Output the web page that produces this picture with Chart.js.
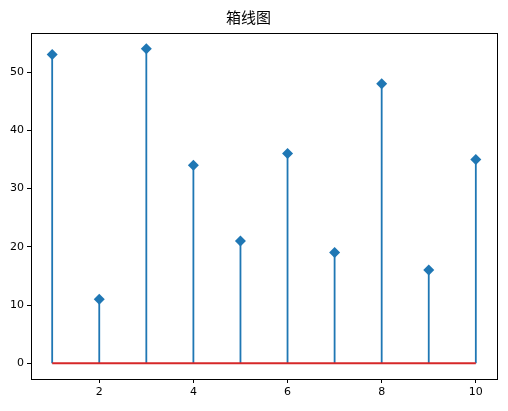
<!DOCTYPE html>
<html>
<head>
<meta charset="utf-8">
<script src="https://cdn.jsdelivr.net/npm/chart.js@4/dist/chart.umd.min.js"></script>
<style>
  html, body { margin: 0; padding: 0; background: #fff; }
  #wrap { width: 508px; height: 411px; }
</style>
</head>
<body>
<div id="wrap"><canvas id="c" width="508" height="411"></canvas></div>
<script>
// Stem plot data
const categories = [1, 2, 3, 4, 5, 6, 7, 8, 9, 10];
const values = [53, 11, 54, 34, 21, 36, 19, 48, 16, 35];
const xTicks = [2, 4, 6, 8, 10];
const yTicks = [0, 10, 20, 30, 40, 50];
const titleText = '箱线图';

const blue = '#1f77b4';
const red = '#d62728';

// Vertical stems: each segment from 0 to the value, separated by gaps
const stemPoints = [];
categories.forEach((x, i) => {
  stemPoints.push({ x: x, y: 0 });
  stemPoints.push({ x: x, y: values[i] });
  stemPoints.push({ x: x, y: null });
});

const basePoints = [
  { x: categories[0], y: 0 },
  { x: categories[categories.length - 1], y: 0 }
];

const markerPoints = categories.map((x, i) => ({ x: x, y: values[i] }));

// Padding so the data sits inside the axes like a 5% margin
const xPad = (categories[categories.length - 1] - categories[0]) * 0.05;
const yMaxVal = Math.max(...values);
const yPad = yMaxVal * 0.05;

const framePlugin = {
  id: 'frame',
  afterDraw(chart) {
    const { ctx, chartArea } = chart;
    ctx.save();
    ctx.strokeStyle = '#000';
    ctx.lineWidth = 1;
    ctx.strokeRect(Math.round(chartArea.left) + 0.5, Math.round(chartArea.top) + 0.5,
      Math.round(chartArea.right - chartArea.left), Math.round(chartArea.bottom - chartArea.top));
    ctx.restore();
  }
};

const tickFont = { family: 'DejaVu Sans, Noto Sans CJK SC, sans-serif', size: 11 };

new Chart(document.getElementById('c'), {
  type: 'scatter',
  data: {
    datasets: [
      {
        type: 'line',
        data: stemPoints,
        borderColor: blue,
        borderWidth: 1.8,
        pointRadius: 0,
        spanGaps: false,
        fill: false,
        order: 3
      },
      {
        type: 'line',
        data: basePoints,
        borderColor: red,
        borderWidth: 1.8,
        pointRadius: 0,
        fill: false,
        order: 2
      },
      {
        type: 'scatter',
        data: markerPoints,
        pointStyle: 'rectRot',
        pointRadius: 5.5,
        pointHoverRadius: 5.5,
        backgroundColor: blue,
        borderColor: blue,
        borderWidth: 0,
        order: 1
      }
    ]
  },
  options: {
    responsive: false,
    animation: false,
    events: [],
    layout: { padding: { left: 0, right: 11, top: 0, bottom: 0 } },
    plugins: {
      legend: { display: false },
      tooltip: { enabled: false },
      title: {
        display: true,
        text: titleText,
        color: '#000',
        font: { family: 'Noto Sans CJK SC, sans-serif', size: 15, weight: 'normal' },
        padding: { top: 8, bottom: 7 }
      }
    },
    scales: {
      x: {
        type: 'linear',
        min: categories[0] - xPad,
        max: categories[categories.length - 1] + xPad,
        afterBuildTicks(scale) { scale.ticks = xTicks.map(v => ({ value: v })); },
        afterFit(scale) { scale.height = 32; },
        grid: { drawOnChartArea: false, drawTicks: true, tickLength: 4, tickColor: '#000' },
        border: { display: true, color: '#000' },
        ticks: { color: '#000', font: tickFont, padding: 3, maxRotation: 0 }
      },
      y: {
        type: 'linear',
        min: 0 - yPad,
        max: yMaxVal + yPad,
        afterBuildTicks(scale) { scale.ticks = yTicks.map(v => ({ value: v })); },
        afterFit(scale) { scale.width = 31; },
        grid: { drawOnChartArea: false, drawTicks: true, tickLength: 4, tickColor: '#000' },
        border: { display: true, color: '#000' },
        ticks: { color: '#000', font: tickFont, padding: 3 }
      }
    }
  },
  plugins: [framePlugin]
});
</script>
</body>
</html>
